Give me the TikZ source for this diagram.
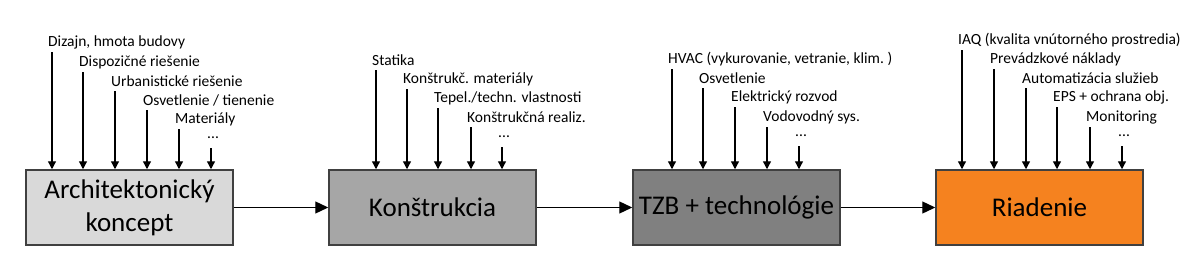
\documentclass[tikz,border=0pt]{standalone}
\usepackage{fontspec}
\setmainfont{Carlito}
\usetikzlibrary{arrows.meta, positioning}

\definecolor{archgray}{HTML}{D9D9D9}
\definecolor{konsgray}{HTML}{A6A6A6}
\definecolor{tzbgray}{HTML}{808080}
\definecolor{ctrlorange}{HTML}{F5821F}

\tikzset{
  block/.style={draw=black!75, line width=1.5pt, minimum width=207pt,
    minimum height=75pt, align=center, inner sep=0pt,
    font=\fontsize{27}{30}\selectfont},
  item/.style={anchor=west, inner sep=0pt, font=\fontsize{15.5}{17}\selectfont},
  feed/.style={line width=1.3pt, -{Triangle[length=8pt,width=8pt]}},
  link/.style={line width=1.3pt, -{Triangle[length=13pt,width=12pt]}},
}

\begin{document}
\begin{tikzpicture}[x=1pt,y=-1pt]
\useasboundingbox (0,0) rectangle (1200,265);

% Main blocks
\node[block, fill=archgray] (arch) at (129.5,207.5) {Architektonický\\[3pt]koncept};
\node[block, fill=konsgray] (kons) at (432.5,207.5) {Konštrukcia};
\node[block, fill=tzbgray] (tzb) at (736.5,207.5) {TZB + technológie};
\node[block, fill=ctrlorange] (ctrl) at (1039.5,207.5) {Riadenie};

% Flow between blocks
\draw[link] (arch) -- (kons);
\draw[link] (kons) -- (tzb);
\draw[link] (tzb) -- (ctrl);

% Inputs of each block
\foreach \x/\y/\t [count=\i] in {52/52/{Dizajn, hmota budovy},
    83/72/{Dispozičné riešenie}, 115/91/{Urbanistické riešenie},
    147/110/{Osvetlenie / tienenie}, 179/129/{Materiály}, 211/148/{...}} {
  \node[item] (arch-t\i) at (\x-4,\y-10) {\t};
  \coordinate (arch-s\i) at (\x,\y);
  \draw[feed] (arch-s\i) -- (arch-s\i |- arch.north);
}
\foreach \x/\y/\t [count=\i] in {376/70/{Statika},
    407/89/{Konštrukč. materiály}, 438/108/{Tepel./techn. vlastnosti},
    471/127/{Konštrukčná realiz.}, 502/147/{...}} {
  \node[item] (kons-t\i) at (\x-4,\y-10) {\t};
  \coordinate (kons-s\i) at (\x,\y);
  \draw[feed] (kons-s\i) -- (kons-s\i |- kons.north);
}
\foreach \x/\y/\t [count=\i] in {672/69/{HVAC (vykurovanie, vetranie, klim.~)},
    703/88/{Osvetlenie}, 735/107/{Elektrický rozvod},
    767/127/{Vodovodný sys.}, 799/146/{...}} {
  \node[item] (tzb-t\i) at (\x-4,\y-10) {\t};
  \coordinate (tzb-s\i) at (\x,\y);
  \draw[feed] (tzb-s\i) -- (tzb-s\i |- tzb.north);
}
\foreach \x/\y/\t [count=\i] in {962/50/{IAQ (kvalita vnútorného prostredia)},
    994/69/{Prevádzkové náklady}, 1026/88/{Automatizácia služieb},
    1057/107/{EPS + ochrana obj.}, 1090/127/{Monitoring}, 1122/146/{...}} {
  \node[item] (ctrl-t\i) at (\x-4,\y-10) {\t};
  \coordinate (ctrl-s\i) at (\x,\y);
  \draw[feed] (ctrl-s\i) -- (ctrl-s\i |- ctrl.north);
}
\end{tikzpicture}
\end{document}
